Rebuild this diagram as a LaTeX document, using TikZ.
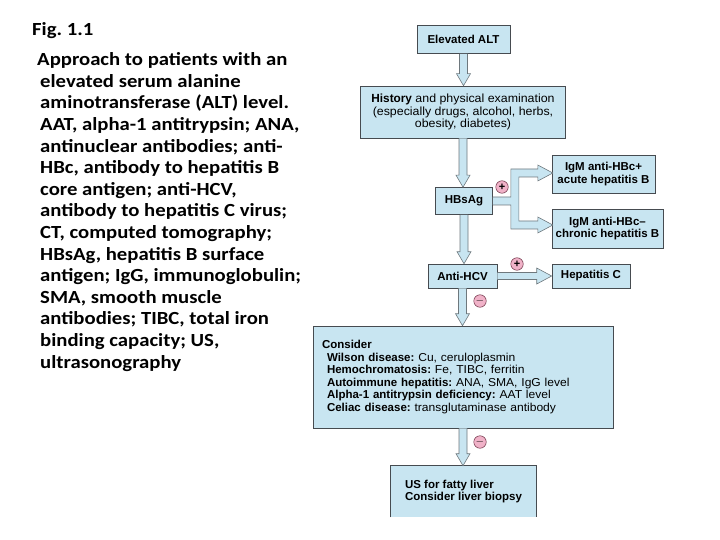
\documentclass[tikz,border=0pt]{standalone}
\usepackage{fontspec}
\setmainfont{Carlito}
\newfontfamily\capfont[FakeStretch=1.12]{Carlito}
\newfontfamily\chartfont{Liberation Sans}[UprightFeatures={FakeStretch=1.05}]
\usetikzlibrary{calc}
\definecolor{boxblue}{RGB}{200,229,241}
\definecolor{boxline}{RGB}{70,75,80}
\definecolor{arrowline}{RGB}{110,120,125}
\definecolor{signpink}{RGB}{240,178,200}
\definecolor{signline}{RGB}{110,50,70}

\tikzset{
  box/.style={draw=boxline, fill=boxblue, line width=0.6pt, inner sep=0pt, align=center,
    font=\chartfont\fontsize{11.5}{12.5}\selectfont},
  boldbox/.style={box, font=\chartfont\bfseries\fontsize{11.5}{12.5}\selectfont},
  blockarrow/.style={draw=arrowline, fill=boxblue, line width=0.6pt},
  sign/.style={circle, draw=signline, fill=signpink, line width=0.5pt, minimum size=12.5pt,
    inner sep=0pt, font=\chartfont\bfseries\fontsize{11}{11}\selectfont},
  captext/.style={inner sep=0pt, align=left, font=\capfont\bfseries\fontsize{18.5}{21.6}\selectfont},
}

% vertical block arrow, from the bottom of #1 to the top of #2
\newcommand{\blockdown}[2]{%
  \filldraw[blockarrow] ($(#1.south)+(-4,0)$) -- ($(#1.south |- #2.north)+(-4,-12)$) -- ++(-3,0)
    -- (#1.south |- #2.north) -- ++(7,-12) -- ++(-3,0) -- ($(#1.south)+(4,0)$);}
% horizontal block arrow, from the right of #1 to the left of #2
\newcommand{\blockright}[2]{%
  \filldraw[blockarrow] ($(#1.east)+(0,-3.5)$) -- ($(#2.west |- #1.east)+(-15,-3.5)$) -- ++(0,-4.5)
    -- (#2.west |- #1.east) -- ++(-15,8) -- ++(0,-4.5) -- ($(#1.east)+(0,3.5)$);}

\begin{document}
\frenchspacing
\begin{tikzpicture}[x=1pt, y=-1pt]
            \useasboundingbox (0,0) rectangle (720,540);

            %Caption
            \node[captext, anchor=north west] at (32,22) (fig) {Fig. 1.1};
            \node[captext, anchor=north west] at (40,52.5) (caption)
              {\hspace*{-3pt}Approach to patients with an\\
               elevated serum alanine\\
               aminotransferase (ALT) level.\\
               AAT, alpha-1 antitrypsin; ANA,\\
               antinuclear antibodies; anti-\\
               HBc, antibody to hepatitis B\\
               core antigen; anti-HCV,\\
               antibody to hepatitis C virus;\\
               CT, computed tomography;\\
               HBsAg, hepatitis B surface\\
               antigen; IgG, immunoglobulin;\\
               SMA, smooth muscle\\
               antibodies; TIBC, total iron\\
               binding capacity; US,\\
               ultrasonography};

            %Nodes
            \node[boldbox, minimum width=93, minimum height=28] at (463.5,39.5) (alt) {Elevated ALT};
            \node[box, minimum width=205, minimum height=52, font=\chartfont\fontsize{11.8}{12.5}\selectfont] at (463,112) (hist)
              {\textbf{History} and physical examination\\(especially drugs, alcohol, herbs,\\obesity, diabetes)};
            \node[boldbox, minimum width=57, minimum height=27] at (464,201) (hbsag) {HBsAg};
            \node[boldbox, minimum width=103, minimum height=38] at (603.5,174) (acute) {IgM anti-HBc+\\acute hepatitis B};
            \node[boldbox, minimum width=111, minimum height=39] at (607.5,228.5) (chronic) {IgM anti-HBc–\\chronic hepatitis B};
            \node[boldbox, minimum width=69, minimum height=24] at (462.5,276) (hcv) {Anti-HCV};
            \node[boldbox, minimum width=78, minimum height=24] at (591,276) (hepc) {Hepatitis C};
            \node[box, align=left, inner xsep=9pt, text width=282, minimum height=102] at (463,377) (consider)
              {\textbf{Consider}\\
               \hspace*{5pt}\textbf{Wilson disease:} Cu, ceruloplasmin\\
               \hspace*{5pt}\textbf{Hemochromatosis:} Fe, TIBC, ferritin\\
               \hspace*{5pt}\textbf{Autoimmune hepatitis:} ANA, SMA, IgG level\\
               \hspace*{5pt}\textbf{Alpha-1 antitrypsin deficiency:} AAT level\\
               \hspace*{5pt}\textbf{Celiac disease:} transglutaminase antibody};
            \node[boldbox, draw=none, align=left, minimum width=145, minimum height=51] at (463.5,491.5) (us)
              {US for fatty liver\\Consider liver biopsy};
            \draw[boxline, line width=0.6pt] (us.south west) -- (us.north west) -- (us.north east) -- (us.south east);

            %Arrows
            \blockdown{alt}{hist}
            \blockdown{hist}{hbsag}
            \blockdown{hbsag}{hcv}
            \blockdown{hcv}{consider}
            \blockdown{consider}{us}
            \blockright{hcv}{hepc}
            \filldraw[blockarrow] ($(hbsag.east)+(0,-4)$) -- ++(18,0) -- ++(0,-28) -- ++(27,0) -- ++(0,-4)
              -- ++(15,8) -- ++(-15,8) -- ++(0,-4) -- ++(-19,0) -- ++(0,44) -- ++(19,0) -- ++(0,-4)
              -- ++(15,8) -- ++(-15,8) -- ++(0,-4) -- ++(-27,0) -- ++(0,-24) -- ($(hbsag.east)+(0,4)$);

            %Signs
            \node[sign] at (502,187) (pos1) {+};
            \node[sign] at (517,264) (pos2) {+};
            \node[sign] at (480,301) (neg1) {$-$};
            \node[sign] at (480,442) (neg2) {$-$};
        \end{tikzpicture}
\end{document}
